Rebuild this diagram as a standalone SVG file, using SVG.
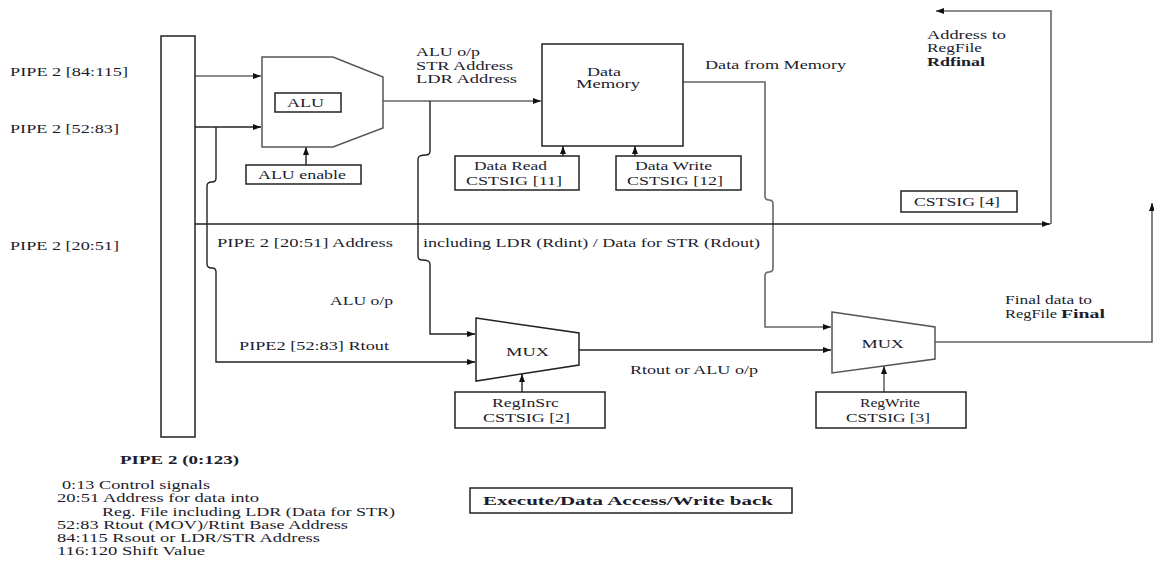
<svg xmlns="http://www.w3.org/2000/svg" width="1154" height="561" viewBox="0 0 1154 561">
<style>
.box{fill:#fff;stroke:#222;stroke-width:1.5}
.gbox{fill:#fff;stroke:#555;stroke-width:1.5}
.t{font-family:"Liberation Serif","Times New Roman",serif;font-size:13px;fill:#1c1c2c}
.s{font-size:11.5px}
.b{font-weight:bold}
.w{fill:none;stroke:#222;stroke-width:1.4}
.g{fill:none;stroke:#666;stroke-width:1.6}
</style>
<defs>
<marker id="ah" markerWidth="8" markerHeight="6" refX="8" refY="3" orient="auto" markerUnits="userSpaceOnUse"><path d="M0,0L8,3L0,6z" fill="#111"/></marker>
</defs>
<rect width="1154" height="561" fill="#fff"/>

<g id="connectors">
<path class="g" d="M195,76 H261" marker-end="url(#ah)"/>
<path class="w" d="M195,127 H261" marker-end="url(#ah)"/>
<path class="w" d="M216,127 V178 Q216,182 212,182 Q207,182 207,186 V264 Q207,268 212,268 Q216,268 216,272 V362 H475" marker-end="url(#ah)"/>
<path class="w" d="M306,165 V147" marker-end="url(#ah)"/>
<path class="g" d="M383,101 H541" marker-end="url(#ah)"/>
<path class="w" d="M430,101 V151 Q430,155 426,155 Q418,155 418,159 V256 Q418,260 422,260 Q430,260 430,264 V334 H475" marker-end="url(#ah)"/>
<path class="w" d="M563,156 V146" marker-end="url(#ah)"/>
<path class="w" d="M635,156 V146" marker-end="url(#ah)"/>
<path class="g" d="M683,82 H765 V196 Q765,200 769,200 Q773,200 773,204 V268 Q773,272 769,272 Q765,272 765,276 V327 H831" marker-end="url(#ah)"/>
<path class="w" d="M195,224 H1050" marker-end="url(#ah)"/>
<path class="g" d="M1051,224 V11 H936" marker-end="url(#ah)"/>
<path class="w" d="M579,350 H831" marker-end="url(#ah)"/>
<path class="w" d="M522,392 V374" marker-end="url(#ah)"/>
<path class="g" d="M884,392 V366" marker-end="url(#ah)"/>
<path class="g" d="M935,342 H1152 V203" marker-end="url(#ah)"/>
</g>

<g id="pipe2">
<rect class="box" x="161" y="36" width="34" height="401"/>
<text class="t b" x="120" y="464" textLength="119" lengthAdjust="spacingAndGlyphs">PIPE 2 (0:123)</text>
</g>

<g id="alu">
<polygon class="gbox" points="262,57 333,57 383,77 383,128 333,147 262,147"/>
<rect class="box" x="275" y="93" width="66" height="19"/>
<text class="t" x="287" y="107" textLength="37" lengthAdjust="spacingAndGlyphs">ALU</text>
</g>

<g id="alu-enable">
<rect class="box" x="246" y="165" width="115" height="19"/>
<text class="t" x="258" y="178.5" textLength="88" lengthAdjust="spacingAndGlyphs">ALU enable</text>
</g>

<g id="data-memory">
<rect class="box" x="542" y="44" width="141" height="102"/>
<text class="t s" x="587" y="75.5" textLength="34" lengthAdjust="spacingAndGlyphs">Data</text>
<text class="t s" x="576" y="88" textLength="64" lengthAdjust="spacingAndGlyphs">Memory</text>
</g>

<g id="data-read">
<rect class="box" x="455" y="156" width="124" height="34"/>
<text class="t" x="474" y="170" textLength="73" lengthAdjust="spacingAndGlyphs">Data Read</text>
<text class="t" x="466" y="184.5" textLength="96" lengthAdjust="spacingAndGlyphs">CSTSIG [11]</text>
</g>

<g id="data-write">
<rect class="box" x="616" y="156" width="125" height="34"/>
<text class="t" x="635" y="170" textLength="77" lengthAdjust="spacingAndGlyphs">Data Write</text>
<text class="t" x="627" y="184.5" textLength="96" lengthAdjust="spacingAndGlyphs">CSTSIG [12]</text>
</g>

<g id="cstsig4">
<rect class="box" x="901" y="191" width="116" height="21"/>
<text class="t" x="914" y="206" textLength="86" lengthAdjust="spacingAndGlyphs">CSTSIG [4]</text>
</g>

<g id="mux1">
<polygon class="box" points="476,318 579,333 579,365 476,381"/>
<text class="t" x="506" y="355.5" textLength="43" lengthAdjust="spacingAndGlyphs">MUX</text>
</g>

<g id="reginsrc">
<rect class="box" x="455" y="392" width="150" height="36"/>
<text class="t" x="492" y="407" textLength="67" lengthAdjust="spacingAndGlyphs">RegInSrc</text>
<text class="t" x="483" y="421.5" textLength="87" lengthAdjust="spacingAndGlyphs">CSTSIG [2]</text>
</g>

<g id="mux2">
<polygon class="gbox" points="832,312 935,327 935,359 832,373"/>
<text class="t" x="861.5" y="347.5" textLength="42.5" lengthAdjust="spacingAndGlyphs">MUX</text>
</g>

<g id="regwrite">
<rect class="box" x="816" y="392" width="150" height="36"/>
<text class="t" x="860" y="407" textLength="60" lengthAdjust="spacingAndGlyphs">RegWrite</text>
<text class="t" x="846" y="421.5" textLength="84" lengthAdjust="spacingAndGlyphs">CSTSIG [3]</text>
</g>

<g id="title">
<rect class="box" x="470" y="488" width="322" height="25"/>
<text class="t b" x="483" y="505" textLength="290" lengthAdjust="spacingAndGlyphs">Execute/Data Access/Write back</text>
</g>

<g id="labels">
<text class="t" x="10" y="76" textLength="118" lengthAdjust="spacingAndGlyphs">PIPE 2 [84:115]</text>
<text class="t" x="10" y="132.5" textLength="109" lengthAdjust="spacingAndGlyphs">PIPE 2 [52:83]</text>
<text class="t" x="10" y="249.5" textLength="109" lengthAdjust="spacingAndGlyphs">PIPE 2 [20:51]</text>
<text class="t" x="416" y="56" textLength="64" lengthAdjust="spacingAndGlyphs">ALU o/p</text>
<text class="t" x="416" y="69.5" textLength="97" lengthAdjust="spacingAndGlyphs">STR Address</text>
<text class="t" x="416" y="83" textLength="101" lengthAdjust="spacingAndGlyphs">LDR Address</text>
<text class="t" x="705" y="69" textLength="141" lengthAdjust="spacingAndGlyphs">Data from Memory</text>
<text class="t" x="927" y="38.5" textLength="79" lengthAdjust="spacingAndGlyphs">Address to</text>
<text class="t" x="927" y="51.5" textLength="55" lengthAdjust="spacingAndGlyphs">RegFile</text>
<text class="t b" x="927" y="66" textLength="58" lengthAdjust="spacingAndGlyphs">Rdfinal</text>
<text class="t" x="217" y="247" textLength="176" lengthAdjust="spacingAndGlyphs">PIPE 2 [20:51] Address</text>
<text class="t" x="423" y="247" textLength="337" lengthAdjust="spacingAndGlyphs">including LDR (Rdint) / Data for STR (Rdout)</text>
<text class="t" x="330" y="304.5" textLength="63" lengthAdjust="spacingAndGlyphs">ALU o/p</text>
<text class="t" x="239" y="349.5" textLength="150" lengthAdjust="spacingAndGlyphs">PIPE2 [52:83] Rtout</text>
<text class="t" x="630" y="373.5" textLength="128" lengthAdjust="spacingAndGlyphs">Rtout or ALU o/p</text>
<text class="t" x="1005" y="303.5" textLength="87" lengthAdjust="spacingAndGlyphs">Final data to</text>
<text class="t" x="1005" y="317.5" textLength="52" lengthAdjust="spacingAndGlyphs">RegFile</text>
<text class="t b" x="1061" y="317.5" textLength="44" lengthAdjust="spacingAndGlyphs">Final</text>
</g>

<g id="legend">
<text class="t s" x="62" y="489" textLength="148" lengthAdjust="spacingAndGlyphs">0:13 Control signals</text>
<text class="t s" x="57" y="502" textLength="202" lengthAdjust="spacingAndGlyphs">20:51 Address for data into</text>
<text class="t s" x="102" y="515.5" textLength="293" lengthAdjust="spacingAndGlyphs">Reg.  File including LDR (Data for STR)</text>
<text class="t s" x="57" y="529" textLength="291" lengthAdjust="spacingAndGlyphs">52:83 Rtout (MOV)/Rtint Base Address</text>
<text class="t s" x="57" y="542" textLength="263" lengthAdjust="spacingAndGlyphs">84:115 Rsout or LDR/STR Address</text>
<text class="t s" x="57" y="555" textLength="148" lengthAdjust="spacingAndGlyphs">116:120 Shift Value</text>
</g>
</svg>
